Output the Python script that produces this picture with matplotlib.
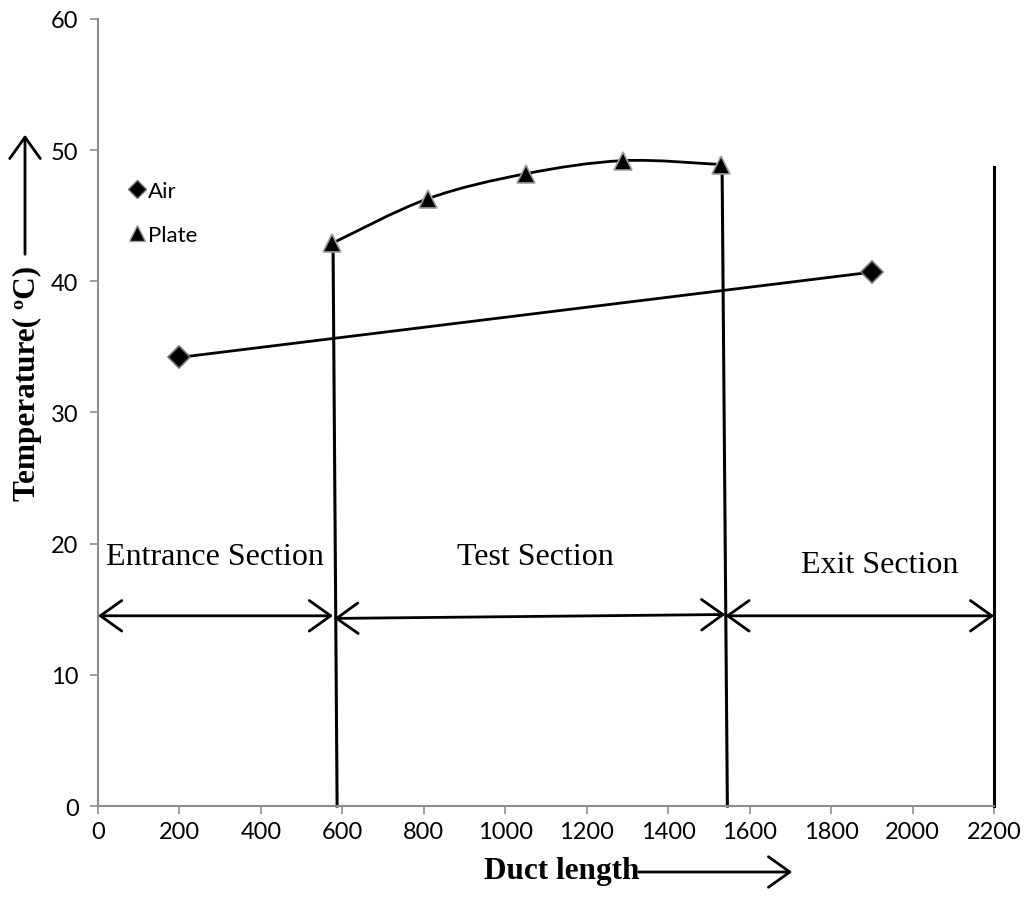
import matplotlib
matplotlib.use("Agg")
import matplotlib.pyplot as plt
from matplotlib.path import Path
from matplotlib.patches import PathPatch, FancyArrowPatch
from matplotlib.lines import Line2D

# ---- data ----
air_x = [200, 1900]
air_y = [34.2, 40.7]
plate_x = [575, 810, 1050, 1290, 1530]
plate_y = [42.9, 46.3, 48.2, 49.2, 48.9]

# section boundary lines (x at bottom, x at top, y top)
boundary_x_bottom = [587, 1545, 2200]
boundary_x_top = [577, 1532, 2200]
boundary_y_top = [42.9, 48.9, 48.7]

# section arrows
arrow_x0 = [0, 580, 1540]
arrow_x1 = [577, 1540, 2200]
arrow_y0 = [14.5, 14.3, 14.5]
arrow_y1 = [14.5, 14.6, 14.5]

section_labels = ["Entrance Section", "Test Section", "Exit Section"]
section_label_x = [287, 1073, 1920]
section_label_y = [19.0, 19.0, 18.4]

xticks = list(range(0, 2201, 200))
yticks = list(range(0, 61, 10))

fig = plt.figure(figsize=(10.26, 9.03), dpi=100)
ax = fig.add_axes([0.0955, 0.1063, 0.8735, 0.8716])
ax.set_xlim(0, 2200)
ax.set_ylim(0, 60)

grey = "#8c8c8c"
for s in ["top", "right"]:
    ax.spines[s].set_visible(False)
for s in ["left", "bottom"]:
    ax.spines[s].set_color(grey)
    ax.spines[s].set_linewidth(1.5)
ax.set_xticks(xticks)
ax.set_yticks(yticks)
ax.tick_params(axis="both", direction="out", length=6, width=1.2, color=grey,
               labelsize=17, pad=8)
ax.tick_params(axis="x", pad=5)
for lab in ax.get_xticklabels() + ax.get_yticklabels():
    lab.set_fontfamily("Lato")

# Air line (straight)
ax.plot(air_x, air_y, color="black", lw=2, zorder=2)

# Plate smooth curve (Excel-like bezier smoothing)
pts = list(zip(plate_x, plate_y))
verts = [pts[0]]
codes = [Path.MOVETO]
n = len(pts)
for i in range(n - 1):
    p0 = pts[i - 1] if i > 0 else pts[i]
    p1 = pts[i]
    p2 = pts[i + 1]
    p3 = pts[i + 2] if i + 2 < n else pts[i + 1]
    c1 = (p1[0] + (p2[0] - p0[0]) / 6, p1[1] + (p2[1] - p0[1]) / 6)
    c2 = (p2[0] - (p3[0] - p1[0]) / 6, p2[1] - (p3[1] - p1[1]) / 6)
    verts += [c1, c2, p2]
    codes += [Path.CURVE4] * 3
ax.add_patch(PathPatch(Path(verts, codes), facecolor="none", edgecolor="black",
                       lw=2, zorder=2))

# Boundary lines
for xb, xt, yt in zip(boundary_x_bottom, boundary_x_top, boundary_y_top):
    ax.plot([xb, xt], [0, yt], color="black", lw=2.2, zorder=2, clip_on=False)

# markers
ax.plot(air_x, air_y, linestyle="none", marker="D", markersize=11,
        markerfacecolor="black", markeredgecolor="#707070", markeredgewidth=1.2,
        zorder=4)
ax.plot(plate_x, plate_y, linestyle="none", marker="^", markersize=13,
        markerfacecolor="black", markeredgecolor="#a0a0a0", markeredgewidth=1.2,
        zorder=4)

# section arrows
for x0, x1, y0, y1 in zip(arrow_x0, arrow_x1, arrow_y0, arrow_y1):
    ax.annotate("", xy=(x1, y1), xytext=(x0, y0),
                arrowprops=dict(arrowstyle="<->,head_length=0.7,head_width=0.5",
                                color="black", lw=2, shrinkA=0, shrinkB=0,
                                mutation_scale=22),
                annotation_clip=False)

for t, x, y in zip(section_labels, section_label_x, section_label_y):
    ax.text(x, y, t, ha="center", va="center", fontsize=23,
            fontfamily="Liberation Serif")

# legend
handles = [Line2D([], [], linestyle="none", marker="D", markersize=9,
                  markerfacecolor="black", markeredgecolor="#707070"),
           Line2D([], [], linestyle="none", marker="^", markersize=11,
                  markerfacecolor="black", markeredgecolor="#a0a0a0")]
leg = ax.legend(handles, ["Air", "Plate"], loc="upper left",
                bbox_to_anchor=(0.012, 0.82), frameon=False, handlelength=0.7,
                handletextpad=0.15, labelspacing=1.1,
                prop={"family": "Lato", "size": 16})

# axis labels with arrows
fig.text(27 / 1026, 1 - 383 / 903, "Temperature( ºC)", rotation=90,
         ha="center", va="center", fontsize=22.5, fontweight="bold",
         fontfamily="Liberation Serif")
fig.text(562 / 1026, 1 - 872 / 903, "Duct length", ha="center", va="center",
         fontsize=22.5, fontweight="bold", fontfamily="Liberation Serif")

fig.add_artist(FancyArrowPatch(
    (25 / 1026, 1 - 258 / 903), (25 / 1026, 1 - 133 / 903),
    transform=fig.transFigure, arrowstyle="->,head_length=0.7,head_width=0.5",
    mutation_scale=22, color="black", lw=2))
fig.add_artist(FancyArrowPatch(
    (636 / 1026, 1 - 873 / 903), (795 / 1026, 1 - 873 / 903),
    transform=fig.transFigure, arrowstyle="->,head_length=0.7,head_width=0.5",
    mutation_scale=22, color="black", lw=2))

fig.savefig("out.png", dpi=100)
